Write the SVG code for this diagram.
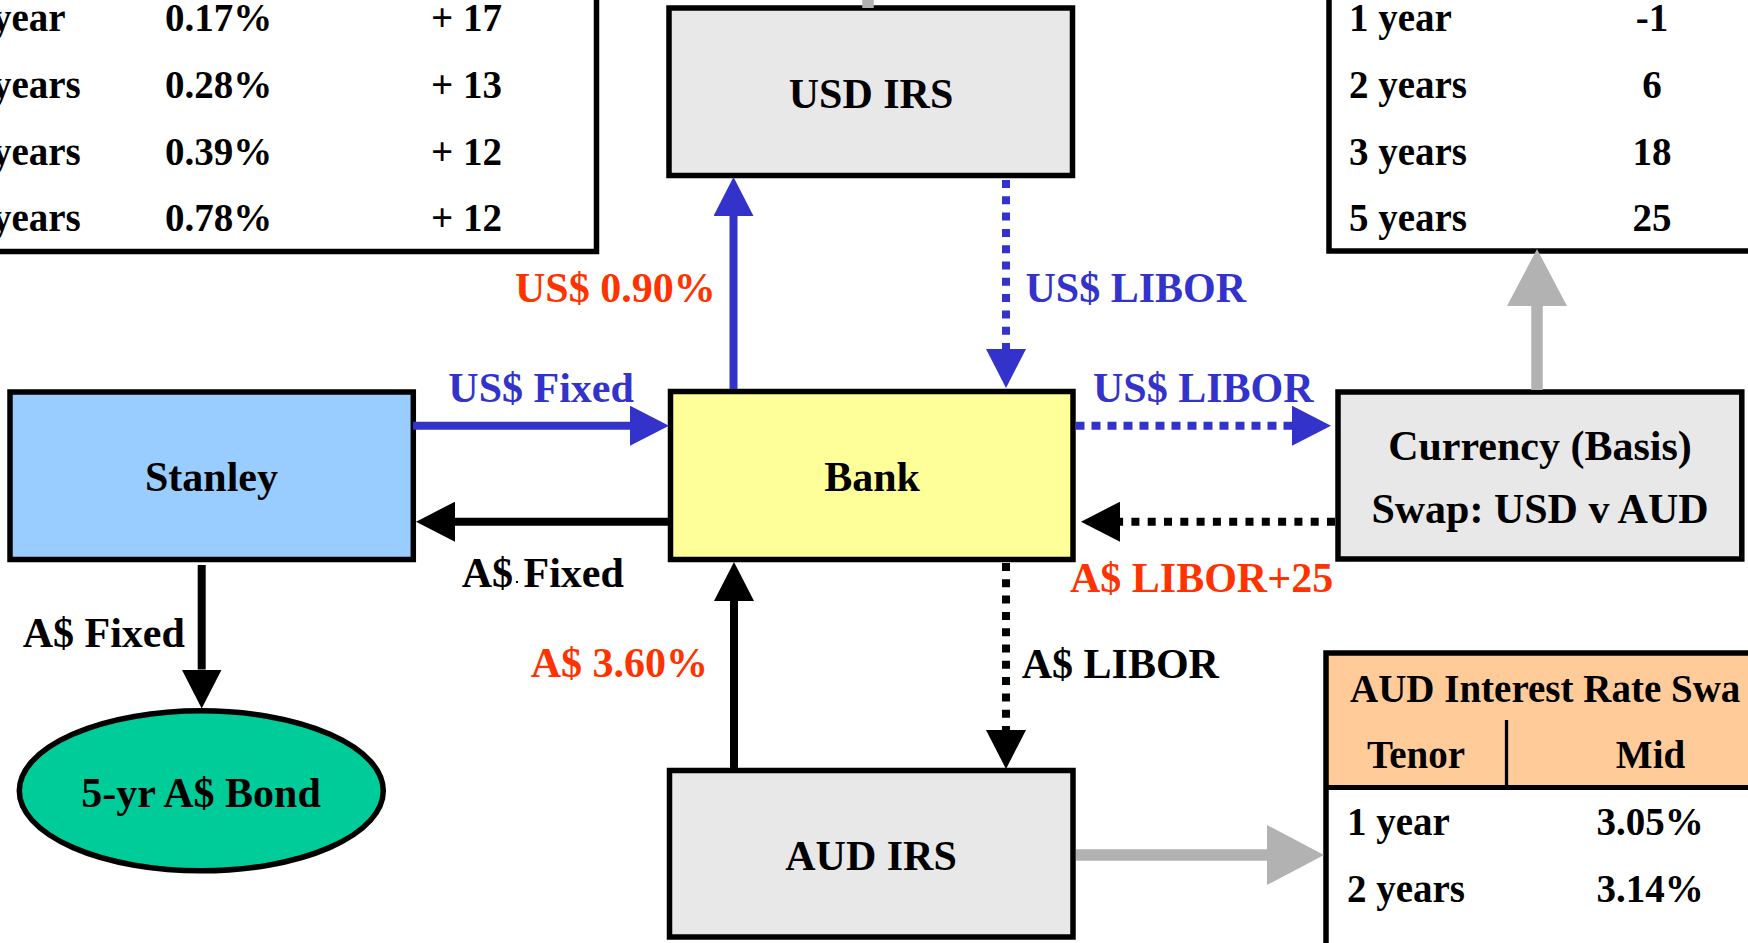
<svg xmlns="http://www.w3.org/2000/svg" width="1748" height="943" viewBox="0 0 1748 943">
<style>
text{font-family:"Liberation Serif","Times New Roman",serif;font-weight:bold;}
.t42{font-size:42px;}
.t39{font-size:39px;}
.mid{text-anchor:middle;}
.blue{fill:#3333CC;}
.red{fill:#FF3300;}
.blk{fill:#000000;}
.box{stroke:#000;stroke-width:5.5;}
.tbl{fill:#FFFFFF;stroke:#000;stroke-width:5.5;}
.ln{fill:none;stroke-width:8;}
.sb{stroke:#3333CC;}
.sk{stroke:#000000;}
.sg{stroke:#B2B2B2;stroke-width:11.5;fill:none;}
.dot{stroke-dasharray:8 8.3;}
.doth{stroke-dasharray:9 7;}
</style>
<defs>
<marker id="hBlue" markerUnits="userSpaceOnUse" markerWidth="40" markerHeight="40" viewBox="0 0 40 40" refX="0" refY="20" orient="auto"><path d="M0,0 L39,20 L0,40 z" fill="#3333CC"/></marker>
<marker id="hBlack" markerUnits="userSpaceOnUse" markerWidth="40" markerHeight="40" viewBox="0 0 40 40" refX="0" refY="20" orient="auto"><path d="M0,0 L39,20 L0,40 z" fill="#000000"/></marker>
<marker id="hGray" markerUnits="userSpaceOnUse" markerWidth="58" markerHeight="60" viewBox="0 0 58 60" refX="0" refY="30" orient="auto"><path d="M0,0 L57,30 L0,60 z" fill="#B2B2B2"/></marker>
</defs>
<rect width="1748" height="943" fill="#FFFFFF"/>

<g id="usd-spread-table">
<rect class="tbl" x="-10" y="-10" width="606.5" height="261.5"/>
<text class="t39 blk" x="-8" y="31">year</text>
<text class="t39 blk" x="-8" y="98">years</text>
<text class="t39 blk" x="-8" y="165">years</text>
<text class="t39 blk" x="-8" y="231">years</text>
<text class="t39 blk mid" x="218.5" y="31">0.17%</text>
<text class="t39 blk mid" x="218.5" y="98">0.28%</text>
<text class="t39 blk mid" x="218.5" y="165">0.39%</text>
<text class="t39 blk mid" x="218.5" y="231">0.78%</text>
<text class="t39 blk mid" x="466.5" y="31">+ 17</text>
<text class="t39 blk mid" x="466.5" y="98">+ 13</text>
<text class="t39 blk mid" x="466.5" y="165">+ 12</text>
<text class="t39 blk mid" x="466.5" y="231">+ 12</text>
</g>

<g id="basis-table">
<rect class="tbl" x="1329" y="-10" width="500" height="261"/>
<text class="t39 blk" x="1349" y="31">1 year</text>
<text class="t39 blk" x="1349" y="98">2 years</text>
<text class="t39 blk" x="1349" y="165">3 years</text>
<text class="t39 blk" x="1349" y="231">5 years</text>
<text class="t39 blk mid" x="1652" y="31">-1</text>
<text class="t39 blk mid" x="1652" y="98">6</text>
<text class="t39 blk mid" x="1652" y="165">18</text>
<text class="t39 blk mid" x="1652" y="231">25</text>
</g>

<g id="aud-irs-table">
<rect x="1326" y="653" width="500" height="134" fill="#FFCC99"/>
<rect x="1326" y="787" width="500" height="200" fill="#FFFFFF"/>
<line x1="1326" y1="787.5" x2="1760" y2="787.5" stroke="#000" stroke-width="5"/>
<line x1="1506.5" y1="720" x2="1506.5" y2="787" stroke="#000" stroke-width="3.3"/>
<rect x="1326" y="653" width="500" height="340" fill="none" stroke="#000" stroke-width="5.5"/>
<text class="t39 blk" x="1350" y="702">AUD Interest Rate Swa</text>
<text class="t39 blk mid" x="1416" y="768">Tenor</text>
<text class="t39 blk mid" x="1650.5" y="768">Mid</text>
<text class="t39 blk" x="1347" y="835">1 year</text>
<text class="t39 blk mid" x="1650" y="835">3.05%</text>
<text class="t39 blk" x="1347" y="902">2 years</text>
<text class="t39 blk mid" x="1650" y="902">3.14%</text>
</g>

<g id="usd-irs">
<rect class="box" x="669" y="8" width="403.5" height="167.5" fill="#E8E8E8"/>
<text class="t42 blk mid" x="871" y="108">USD IRS</text>
</g>

<g id="stanley">
<rect class="box" x="10" y="392" width="403.3" height="167.5" fill="#99CCFF"/>
<text class="t42 blk mid" x="211.5" y="491">Stanley</text>
</g>

<g id="bank">
<rect class="box" x="670.5" y="391.5" width="402.5" height="168" fill="#FFFF99"/>
<text class="t42 blk mid" x="872" y="491">Bank</text>
</g>

<g id="currency-swap">
<rect class="box" x="1338" y="392" width="403.8" height="167" fill="#E8E8E8"/>
<text class="t42 blk mid" x="1540" y="460">Currency (Basis)</text>
<text class="t42 blk mid" x="1540" y="522.7">Swap: USD v AUD</text>
</g>

<g id="aud-irs">
<rect class="box" x="669.5" y="770.5" width="403.5" height="166.5" fill="#E8E8E8"/>
<text class="t42 blk mid" x="871" y="870">AUD IRS</text>
</g>

<g id="bond">
<ellipse class="box" cx="201.3" cy="790.8" rx="182" ry="80" fill="#00CC99"/>
<text class="t42 blk mid" x="201" y="806.7">5-yr A$ Bond</text>
</g>

<g id="connectors">
<line class="sg" x1="868" y1="8" x2="868" y2="-2"/>
<line class="ln sb" x1="413" y1="425.7" x2="630" y2="425.7" marker-end="url(#hBlue)"/>
<line class="ln sk" x1="668" y1="521.7" x2="455" y2="521.7" marker-end="url(#hBlack)"/>
<line class="ln sb" x1="733.5" y1="389" x2="733.5" y2="216" marker-end="url(#hBlue)"/>
<line class="ln sb dot" x1="1006" y1="180" x2="1006" y2="349" marker-end="url(#hBlue)"/>
<line class="ln sb doth" x1="1075.5" y1="425.7" x2="1292" y2="425.7" marker-end="url(#hBlue)"/>
<line class="ln sk dot" x1="1335" y1="521.7" x2="1120" y2="521.7" marker-end="url(#hBlack)"/>
<line class="ln sk" x1="734" y1="768" x2="734" y2="601" marker-end="url(#hBlack)"/>
<line class="ln sk dot" x1="1006" y1="563" x2="1006" y2="730" marker-end="url(#hBlack)"/>
<line class="ln sk" x1="201.7" y1="565" x2="201.7" y2="669.5" marker-end="url(#hBlack)"/>
<line class="sg" x1="1537" y1="390" x2="1537" y2="306" marker-end="url(#hGray)"/>
<line class="sg" x1="1076" y1="855" x2="1267" y2="855" marker-end="url(#hGray)"/>
</g>

<g id="labels">
<text class="t42 red" x="515" y="301.7">US$ 0.90%</text>
<text class="t42 blue" x="1025.5" y="301.7">US$ LIBOR</text>
<text class="t42 blue" x="448.3" y="401.7">US$ Fixed</text>
<text class="t42 blue" x="1093" y="401.7">US$ LIBOR</text>
<text class="t42 blk" x="461.7" y="587">A$ Fixed</text>
<rect x="516" y="581" width="2" height="2" fill="#000"/>
<text class="t42 red" x="1070" y="591.7">A$ LIBOR+25</text>
<text class="t42 blk" x="22.7" y="647.3">A$ Fixed</text>
<text class="t42 red" x="530.7" y="677.3">A$ 3.60%</text>
<text class="t42 blk" x="1021.7" y="678.3">A$ LIBOR</text>
</g>
</svg>
